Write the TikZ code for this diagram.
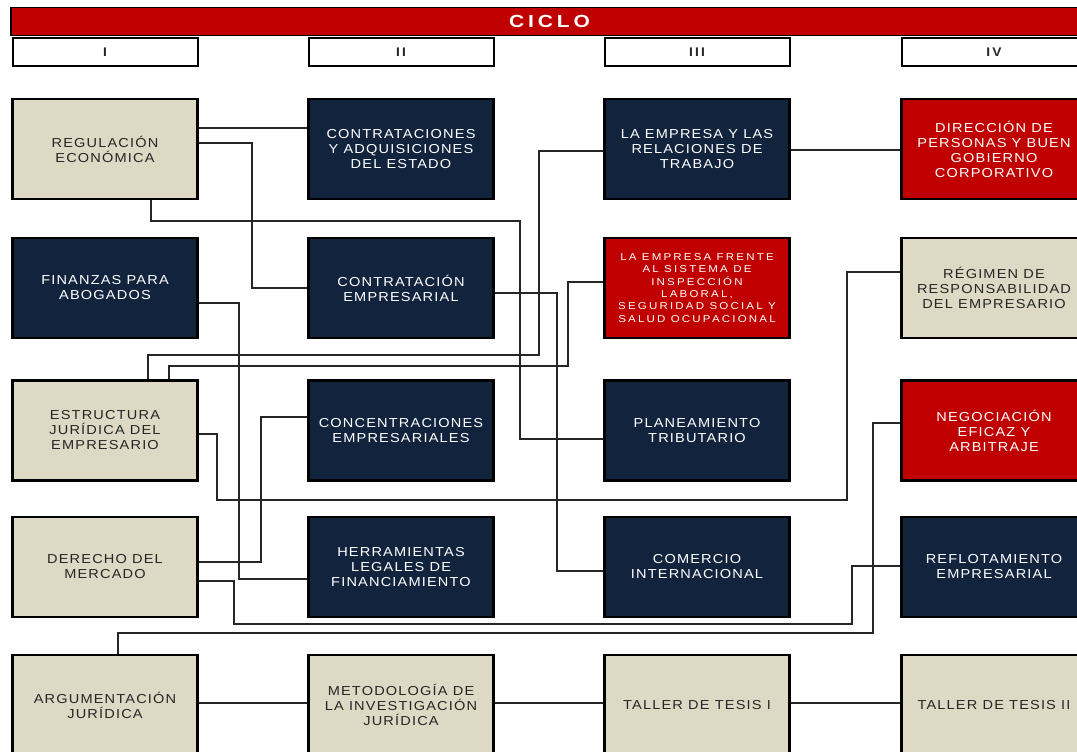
\documentclass[tikz,border=0pt]{standalone}
\usepackage{fontspec}
\setmainfont{Liberation Sans}
\newfontfamily\boxfont[FakeStretch=1.12,LetterSpace=9]{Liberation Sans}
\newfontfamily\redfont[FakeStretch=1.15,LetterSpace=22]{Liberation Sans}
\newfontfamily\ciclofont[FakeStretch=1.2,LetterSpace=22]{Liberation Sans}
\newfontfamily\colfont[FakeStretch=1.1,LetterSpace=18]{Liberation Sans}
\definecolor{cbeige}{RGB}{221,217,196}
\definecolor{cnavy}{RGB}{17,35,61}
\definecolor{cred}{RGB}{192,0,0}
\definecolor{dtext}{RGB}{38,38,38}
\tikzset{
  course/.style={draw=black, line width=2.4pt, minimum width=185pt, minimum height=100pt,
    inner sep=0pt, align=center, font=\boxfont\fontsize{13}{15}\selectfont},
  tanbox/.style={course, fill=cbeige, text=dtext},
  navybox/.style={course, fill=cnavy, text=white},
  redbox/.style={course, fill=cred, text=white},
  colbox/.style={draw=black, line width=2pt, fill=white, minimum width=185pt, minimum height=28pt,
    inner sep=0pt, font=\colfont\bfseries\fontsize{12.5}{14}\selectfont, text=dtext},
  conn/.style={draw=black!85, line width=1.4pt}
}
\begin{document}
\begin{tikzpicture}[x=1pt,y=-1pt]
\fill[white] (0,0) rectangle (1077,752);
\useasboundingbox (0,0) rectangle (1077,752);

% header
\node[fill=cred, draw=black, line width=1.2pt, minimum width=1077pt, minimum height=28pt, inner sep=0pt,
  text=white, font=\ciclofont\bfseries\fontsize{17.5}{19}\selectfont] (ciclo) at (549.5,21.5) {CICLO};
\node[colbox] (h1) at (105,52) {I};
\node[colbox] (h2) at (401,52) {II};
\node[colbox] (h3) at (697,52) {III};
\node[colbox] (h4) at (994,52) {IV};

% row 1
\node[tanbox]  (reg)  at (105,149) {REGULACIÓN\\ECONÓMICA};
\node[navybox] (cad)  at (401,149) {CONTRATACIONES\\Y ADQUISICIONES\\DEL ESTADO};
\node[navybox] (rt)   at (697,149) {LA EMPRESA Y LAS\\RELACIONES DE\\TRABAJO};
\node[redbox]  (dir)  at (994,149) {DIRECCIÓN DE\\PERSONAS  Y BUEN\\GOBIERNO\\CORPORATIVO};
% row 2
\node[navybox] (fin)  at (105,288) {FINANZAS PARA\\ABOGADOS};
\node[navybox] (cemp) at (401,288) {CONTRATACIÓN\\EMPRESARIAL};
\node[redbox, font=\redfont\fontsize{10}{12.3}\selectfont] (ef) at (697,288)
  {LA EMPRESA FRENTE\\AL SISTEMA DE\\INSPECCIÓN\\LABORAL,\\SEGURIDAD SOCIAL Y\\SALUD OCUPACIONAL};
\node[tanbox]  (resp) at (994,288) {RÉGIMEN DE\\RESPONSABILIDAD\\DEL EMPRESARIO};
% row 3
\node[tanbox]  (est)  at (105,430.5) {ESTRUCTURA\\JURÍDICA DEL\\EMPRESARIO};
\node[navybox] (conc) at (401,430.5) {CONCENTRACIONES\\EMPRESARIALES};
\node[navybox] (plan) at (697,430.5) {PLANEAMIENTO\\TRIBUTARIO};
\node[redbox]  (neg)  at (994,430.5) {NEGOCIACIÓN\\EFICAZ Y\\ARBITRAJE};
% row 4
\node[tanbox]  (dm)   at (105,567) {DERECHO DEL\\MERCADO};
\node[navybox] (herr) at (401,567) {HERRAMIENTAS\\LEGALES DE\\FINANCIAMIENTO};
\node[navybox] (com)  at (697,567) {COMERCIO\\INTERNACIONAL};
\node[navybox] (refl) at (994,567) {REFLOTAMIENTO\\EMPRESARIAL};
% row 5
\node[tanbox]  (arg)  at (105,705) {ARGUMENTACIÓN\\JURÍDICA};
\node[tanbox]  (met)  at (401,705) {METODOLOGÍA DE\\LA INVESTIGACIÓN\\JURÍDICA};
\node[tanbox]  (t1)   at (697,705) {TALLER DE TESIS I};
\node[tanbox]  (t2)   at (994,705) {TALLER DE TESIS II};

% connectors
\draw[conn] (reg.east |- 0,128) -- (cad.west |- 0,128);
\draw[conn] (reg.east |- 0,143) -- (252,143) -- (252,288) -- (cemp.west |- 0,288);
\draw[conn] (reg.south -| 151,0) -- (151,221) -- (520,221) -- (520,439) -- (plan.west |- 0,439);
\draw[conn] (fin.east |- 0,303) -- (239,303) -- (239,579) -- (herr.west |- 0,579);
\draw[conn] (cemp.east |- 0,293) -- (557,293) -- (557,571) -- (com.west |- 0,571);
\draw[conn] (rt.west |- 0,151) -- (539,151) -- (539,355) -- (148,355) -- (est.north -| 148,0);
\draw[conn] (ef.west |- 0,282) -- (568,282) -- (568,366) -- (169,366) -- (est.north -| 169,0);
\draw[conn] (est.east |- 0,434) -- (217,434) -- (217,500) -- (847,500) -- (847,272) -- (resp.west |- 0,272);
\draw[conn] (dm.east |- 0,562) -- (261,562) -- (261,417) -- (conc.west |- 0,417);
\draw[conn] (dm.east |- 0,581) -- (234,581) -- (234,624) -- (852,624) -- (852,566) -- (refl.west |- 0,566);
\draw[conn] (arg.north -| 118,0) -- (118,633) -- (873,633) -- (873,423) -- (neg.west |- 0,423);
\draw[conn] (rt.east |- 0,150) -- (dir.west |- 0,150);
\draw[conn] (arg.east |- 0,703) -- (met.west |- 0,703);
\draw[conn] (met.east |- 0,703) -- (t1.west |- 0,703);
\draw[conn] (t1.east |- 0,703) -- (t2.west |- 0,703);
\end{tikzpicture}
\end{document}
